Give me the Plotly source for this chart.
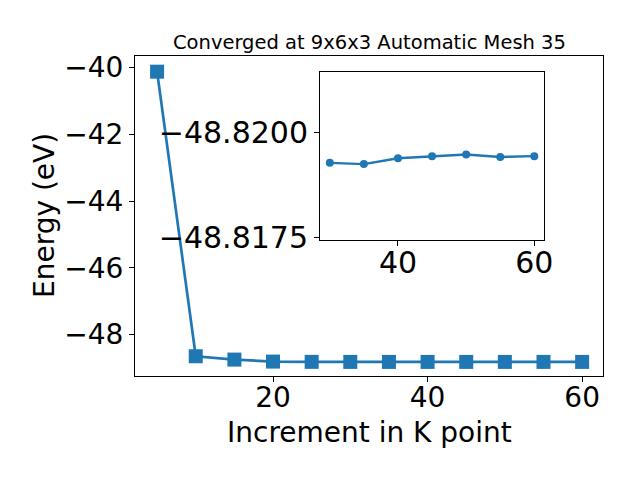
import plotly.graph_objects as go

kpoints = [5, 10, 15, 20, 25, 30, 35, 40, 45, 50, 55, 60]
energy = [-40.12, -48.65, -48.75, -48.81, -48.818, -48.81927, -48.81924,
          -48.81938, -48.81943, -48.81947, -48.81941, -48.81943]

inset_k = [30, 35, 40, 45, 50, 55, 60]
inset_energy = [-48.81927, -48.81924, -48.81938, -48.81943, -48.81947, -48.81941, -48.81943]

main_xticks = [20, 40, 60]
main_yticks = [-40, -42, -44, -46, -48]
inset_xticks = [40, 60]
inset_yticks = [-48.8200, -48.8175]

title_text = "Converged at 9x6x3 Automatic Mesh 35"
xlabel = "Increment in K point"
ylabel = "Energy (eV)"

W, H = 640, 480
blue = "#1f77b4"
font = "DejaVu Sans"

fig = go.Figure()
fig.add_trace(go.Scatter(x=kpoints, y=energy, mode="lines+markers",
                         line=dict(color=blue, width=2.7),
                         marker=dict(symbol="square", size=14, color=blue),
                         xaxis="x", yaxis="y", showlegend=False))
fig.add_trace(go.Scatter(x=inset_k, y=inset_energy, mode="lines+markers",
                         line=dict(color=blue, width=2.4),
                         marker=dict(symbol="circle", size=8, color=blue),
                         xaxis="x2", yaxis="y2", showlegend=False))

axis_common = dict(showline=True, mirror=True, linecolor="black", linewidth=1,
                   ticks="outside", ticklen=5, tickwidth=1, tickcolor="black",
                   showgrid=False, zeroline=False, automargin=False)

fig.update_layout(
    width=W, height=H,
    margin=dict(l=0, r=0, t=0, b=0, pad=0, autoexpand=False),
    paper_bgcolor="white", plot_bgcolor="white",
    font=dict(family=font, color="black"),
    xaxis=dict(domain=[135 / W, 603 / W], range=[2.14, 62.7],
               tickvals=main_xticks, tickfont=dict(size=28), ticklabelstandoff=-9,
               anchor="y", **axis_common),
    yaxis=dict(domain=[1 - 376 / H, 1 - 56 / H], range=[-49.242, -39.65],
               tickvals=main_yticks, tickfont=dict(size=28), anchor="x", **axis_common),
    xaxis2=dict(domain=[320 / W, 544 / W], range=[28.56, 61.42],
                tickvals=inset_xticks, tickfont=dict(size=30), ticklabelstandoff=-9,
                anchor="y2", **axis_common),
    yaxis2=dict(domain=[1 - 240 / H, 1 - 72.3 / H], range=[-48.81743, -48.82143],
                tickvals=inset_yticks, tickformat=".4f", tickfont=dict(size=30),
                anchor="x2", **axis_common),
    annotations=[
        dict(text=title_text, x=369 / W, y=1 - 42 / H, xref="paper", yref="paper",
             showarrow=False, font=dict(size=19.5), xanchor="center", yanchor="middle"),
        dict(text=xlabel, x=369 / W, y=1 - 432 / H, xref="paper", yref="paper",
             showarrow=False, font=dict(size=28), xanchor="center", yanchor="middle"),
        dict(text=ylabel, x=45 / W, y=1 - 216 / H, xref="paper", yref="paper",
             showarrow=False, font=dict(size=28), textangle=-90,
             xanchor="center", yanchor="middle"),
    ],
)

fig.write_html("out.html", config={"displayModeBar": False},
               post_script="document.body.style.margin='0px';")
